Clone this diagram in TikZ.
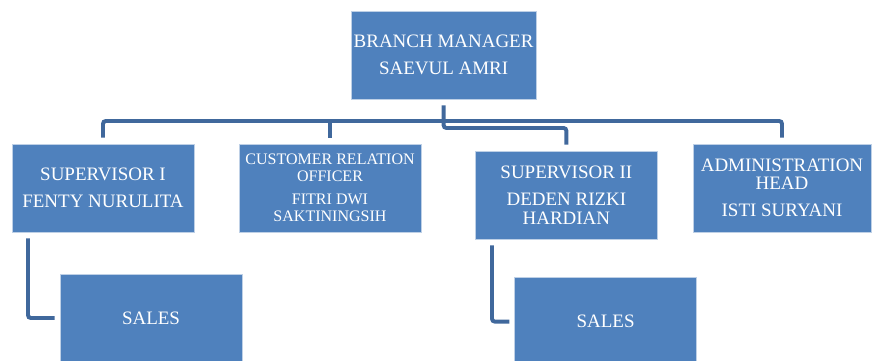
\documentclass[tikz,border=0pt]{standalone}
\usepackage{fontspec}
\setmainfont{Liberation Serif}
\usetikzlibrary{positioning,calc}
\definecolor{boxblue}{RGB}{79,129,189}
\definecolor{boxedge}{RGB}{190,208,230}
\definecolor{linkblue}{RGB}{64,104,156}

\begin{document}
\begin{tikzpicture}[
    post/.style={rectangle, draw=boxedge, line width=0.5pt, fill=boxblue, text=white, align=center, minimum width=4.55cm, minimum height=2.2cm, inner sep=2pt, font=\fontsize{13.5}{13.2}\selectfont},
    small/.style={font=\fontsize{11.4}{12.1}\selectfont},
    link/.style={draw=linkblue, line width=2.8pt, rounded corners=2pt, shorten <=0.15cm, shorten >=0.15cm}
]
\useasboundingbox (0,0) rectangle (21.8,9);

% Top of the chart
\node[post] (mgr) at (11.09,7.625) {BRANCH MANAGER\\[6pt]SAEVUL AMRI};

% Second level (four posts)
\node[post] (sup1) at (2.575,4.3) {SUPERVISOR I\\[6pt]FENTY NURULITA};
\node[post, small] (cro) at (8.25,4.3) {CUSTOMER RELATION\\OFFICER\\[4.3pt]FITRI DWI\\SAKTININGSIH};
\node[post] (sup2) at (14.16,4.125) {SUPERVISOR II\\[6pt]DEDEN RIZKI\\HARDIAN};
\node[post, minimum width=4.45cm] (admin) at (19.55,4.3) {ADMINISTRATION\\HEAD\\[6pt]ISTI SURYANI};

% Sales under each supervisor
\node[post] (sales1) at (3.775,1.05) {SALES};
\node[post] (sales2) at (15.14,0.96) {SALES};

% Bus lines below the manager
\coordinate (bus) at (11.09,5.975);
\coordinate (split) at (11.09,5.8);

\draw[link] (sup1.north) |- (bus) -| (admin.north);
\draw[link, shorten >=-1.4pt] (cro.north) -- (cro.north |- bus);
\draw[link] (mgr.south) -- (split) -| (sup2.north);

% Supervisors to sales
\draw[link, shorten >=0.125cm] ([xshift=-1.875cm]sup1.south) |- (sales1.west);
\draw[link, shorten >=0.125cm] ([xshift=-1.86cm]sup2.south) |- (sales2.west);

\end{tikzpicture}
\end{document}
